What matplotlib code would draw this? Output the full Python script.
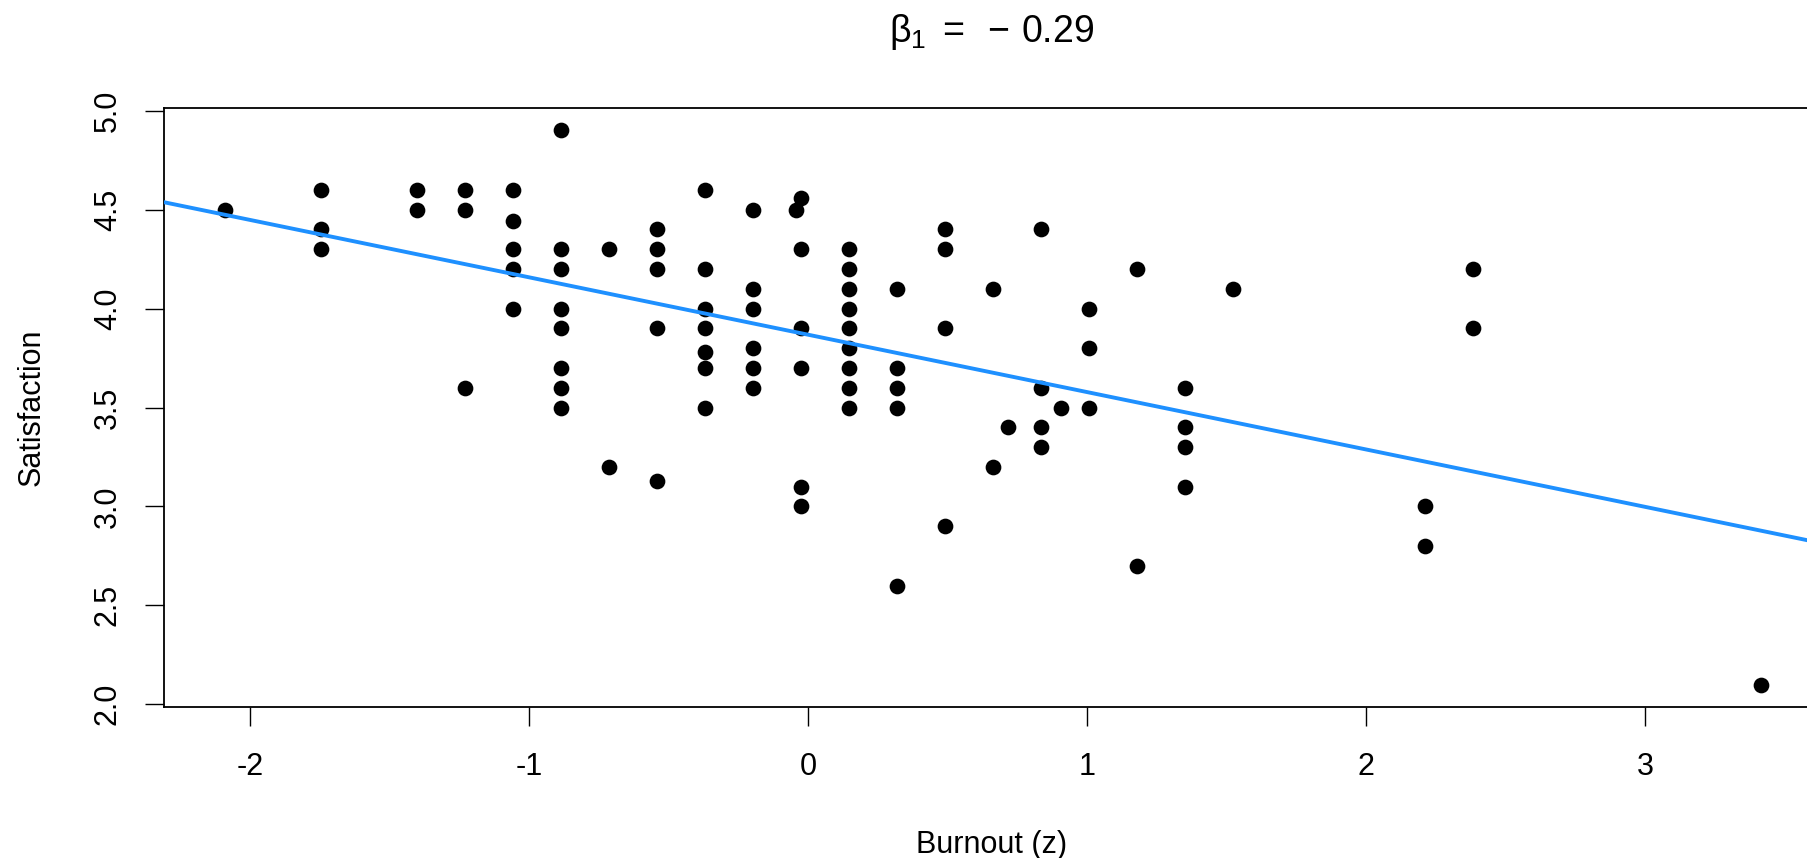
import numpy as np
import matplotlib
matplotlib.use("Agg")
import matplotlib.pyplot as plt

plt.rcParams["font.family"] = ["Liberation Sans", "DejaVu Sans"]
plt.rcParams["mathtext.fontset"] = "custom"
plt.rcParams["mathtext.rm"] = "Liberation Sans"
plt.rcParams["mathtext.it"] = "Liberation Sans"
plt.rcParams["axes.unicode_minus"] = False

# burnout z-scores and the satisfaction ratings observed at each
burnout_levels = [-2.088, -1.744, -1.400, -1.228, -1.056, -0.884, -0.712, -0.540,
                  -0.368, -0.196, -0.044, -0.024, 0.148, 0.320, 0.492, 0.664,
                  0.717, 0.836, 0.907, 1.008, 1.180, 1.352, 1.524, 2.212, 2.384, 3.416]
satisfaction_at_level = [
    [4.5],
    [4.6, 4.4, 4.3],
    [4.6, 4.5],
    [4.6, 4.5, 3.6],
    [4.6, 4.44, 4.3, 4.2, 4.0],
    [4.9, 4.3, 4.2, 4.0, 3.9, 3.7, 3.6, 3.5],
    [4.3, 3.2],
    [4.4, 4.3, 4.2, 3.9, 3.13],
    [4.6, 4.2, 4.0, 3.9, 3.78, 3.7, 3.5],
    [4.5, 4.1, 4.0, 3.8, 3.7, 3.6],
    [4.5],
    [4.56, 4.3, 3.9, 3.7, 3.1, 3.0],
    [4.3, 4.2, 4.1, 4.0, 3.9, 3.8, 3.7, 3.6, 3.5],
    [4.1, 3.7, 3.6, 3.5, 2.6],
    [4.4, 4.3, 3.9, 2.9],
    [4.1, 3.2],
    [3.4],
    [4.4, 3.6, 3.4, 3.3],
    [3.5],
    [4.0, 3.8, 3.5],
    [4.2, 2.7],
    [3.6, 3.4, 3.3, 3.1],
    [4.1],
    [3.0, 2.8],
    [4.2, 3.9],
    [2.1],
]

intercept = 3.868
slope = -0.29

x_ticks = [-2, -1, 0, 1, 2, 3]
y_ticks = [2.0, 2.5, 3.0, 3.5, 4.0, 4.5, 5.0]

burnout = []
satisfaction = []
for level, ys in zip(burnout_levels, satisfaction_at_level):
    for y in ys:
        burnout.append(level)
        satisfaction.append(y)

fig = plt.figure(figsize=(18.08, 8.58), dpi=100)
ax = fig.add_axes([0.09071, 0.17599, 0.91593, 0.69779])

ax.scatter(burnout, satisfaction, s=128, color="black", linewidths=0, zorder=2)
ax.axline((0, intercept), slope=slope, color="#1E90FF", lw=2.8, zorder=3)

ax.set_xlim(-2.3082, 3.6272)
ax.set_ylim(1.9864, 5.0121)

ax.set_xticks(x_ticks)
ax.set_xticklabels([str(t) for t in x_ticks])
ax.set_yticks(y_ticks)
ax.set_yticklabels([f"{t:.1f}" for t in y_ticks], rotation=90, va="center")

ax.tick_params(axis="both", direction="out", length=13.7, width=1.0,
               labelsize=22, color="black")
ax.tick_params(axis="x", pad=19)
ax.tick_params(axis="y", pad=16)

for side in ["left", "bottom", "top", "right"]:
    ax.spines[side].set_linewidth(1.3)

ax.set_xlabel("Burnout (z)", fontsize=22, labelpad=34)
ax.set_ylabel("Satisfaction", fontsize=22, labelpad=33)
ax.set_title(r"$\beta_1\ =\ -\,0.29$", fontsize=27, pad=48)

fig.savefig("out.png", dpi=100)
